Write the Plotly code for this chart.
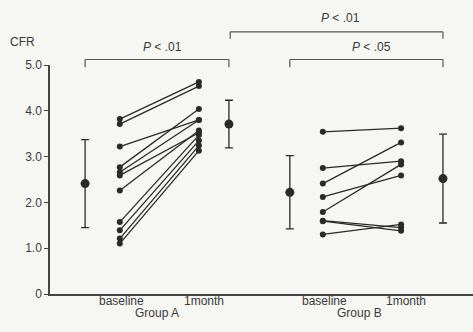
import plotly.graph_objects as go

# ---- data ----
group_a_baseline = [3.82, 3.71, 3.22, 2.77, 2.66, 2.59, 2.26, 1.57, 1.39, 1.21, 1.10]
group_a_1month = [4.63, 4.54, 3.80, 4.04, 3.80, 3.52, 3.57, 3.47, 3.35, 3.24, 3.13]
group_b_baseline = [3.54, 2.75, 2.41, 2.12, 1.79, 1.59, 1.30, 1.60]
group_b_1month = [3.62, 2.90, 3.31, 2.59, 2.83, 1.38, 1.52, 1.45]
mean_values = [2.41, 3.71, 2.22, 2.52]
sd_values = [0.96, 0.52, 0.80, 0.97]
time_labels = ["baseline", "1month"]
group_labels = ["Group A", "Group B"]
p_labels = ["P < .01", "P < .01", "P < .05"]
y_tick_vals = [0, 1, 2, 3, 4, 5]
y_tick_text = ["0", "1.0", "2.0", "3.0", "4.0", "5.0"]

# ---- layout constants (x slots on an abstract 0..10 axis) ----
X_A_MEAN_B, X_A_BASE, X_A_1M, X_A_MEAN_1M = 0.83, 1.65, 3.52, 4.23
X_B_MEAN_B, X_B_BASE, X_B_1M, X_B_MEAN_1M = 5.67, 6.45, 8.30, 9.29
INK = "#2a2a2a"
TXT = "#3a3a3a"
BG = "#f6f6f3"
FONT = "Liberation Sans, Arial, sans-serif"

fig = go.Figure()

for b, m in zip(group_a_baseline, group_a_1month):
    fig.add_trace(go.Scatter(x=[X_A_BASE, X_A_1M], y=[b, m], mode="lines+markers",
                             line=dict(color=INK, width=1.3),
                             marker=dict(color=INK, size=6), showlegend=False, hoverinfo="y"))
for b, m in zip(group_b_baseline, group_b_1month):
    fig.add_trace(go.Scatter(x=[X_B_BASE, X_B_1M], y=[b, m], mode="lines+markers",
                             line=dict(color=INK, width=1.3),
                             marker=dict(color=INK, size=6), showlegend=False, hoverinfo="y"))

fig.add_trace(go.Scatter(
    x=[X_A_MEAN_B, X_A_MEAN_1M, X_B_MEAN_B, X_B_MEAN_1M], y=mean_values, mode="markers",
    marker=dict(color=INK, size=9),
    error_y=dict(type="data", array=sd_values, color=INK, thickness=1.3, width=4),
    showlegend=False, hoverinfo="y"))

# brackets (y in paper units above the plot area)
def bracket(x0, x1, ytop, ybot):
    for xx in (x0, x1):
        fig.add_shape(type="line", xref="x", yref="paper", x0=xx, x1=xx, y0=ybot, y1=ytop,
                      line=dict(color="#555", width=1.2))
    fig.add_shape(type="line", xref="x", yref="paper", x0=x0, x1=x1, y0=ytop, y1=ytop,
                  line=dict(color="#555", width=1.2))

bracket(X_A_MEAN_B, X_A_MEAN_1M, 1.024, 0.99)
bracket(X_B_MEAN_B, X_B_MEAN_1M, 1.024, 0.99)
bracket(X_A_MEAN_1M + 0.03, X_B_MEAN_1M, 1.145, 1.115)

def ptext(label, x, y):
    p, rest = label.split(" ", 1)
    fig.add_annotation(text=f"<i>{p}</i> {rest}", x=x, y=y, xref="x", yref="paper",
                       xanchor="center", yanchor="middle",
                       showarrow=False, font=dict(size=12, color=TXT, family=FONT), xshift=5)

ptext(p_labels[0], (X_A_MEAN_B + X_A_MEAN_1M) / 2, 1.080)
ptext(p_labels[1], (X_A_MEAN_1M + X_B_MEAN_1M) / 2, 1.205)
ptext(p_labels[2], (X_B_MEAN_B + X_B_MEAN_1M) / 2, 1.080)

# x category labels
for xb, x1, g in [(X_A_BASE, X_A_1M, group_labels[0]), (X_B_BASE, X_B_1M, group_labels[1])]:
    fig.add_annotation(text=time_labels[0], x=xb, y=-0.03, xref="x", yref="paper",
                       xanchor="center", yanchor="middle",
                       showarrow=False, font=dict(size=12, color=TXT, family=FONT), xshift=2)
    fig.add_annotation(text=time_labels[1], x=x1, y=-0.03, xref="x", yref="paper",
                       xanchor="center", yanchor="middle",
                       showarrow=False, font=dict(size=12, color=TXT, family=FONT), xshift=5)
    fig.add_annotation(text=g, x=(xb + x1) / 2, y=-0.083, xref="x", yref="paper",
                       xanchor="center", yanchor="middle",
                       showarrow=False, font=dict(size=12, color=TXT, family=FONT), xshift=-2)

fig.add_annotation(text="CFR", x=-0.064, y=(294 - 42) / 229, xref="paper", yref="paper",
                   xanchor="center", yanchor="middle", showarrow=False,
                   font=dict(size=12, color=TXT, family=FONT))

fig.update_layout(
    width=473, height=332,
    margin=dict(l=50, r=0, t=65, b=38),
    paper_bgcolor=BG, plot_bgcolor=BG,
    font=dict(family=FONT, size=12, color=TXT),
    xaxis=dict(range=[0, 10], showgrid=False, zeroline=False, showticklabels=False,
               showline=True, linecolor="#444", linewidth=1.5, ticks=""),
    yaxis=dict(range=[0, 5], showgrid=False, zeroline=False, tickvals=y_tick_vals,
               ticktext=y_tick_text, ticks="outside", ticklen=4, tickcolor="#444",
               showline=True, linecolor="#444", linewidth=1.5,
               tickfont=dict(size=12, color=TXT, family=FONT)),
    showlegend=False,
)

fig.write_html("out.html", config={"displayModeBar": False},
               post_script="document.body.style.margin='0';document.body.style.background='%s';" % BG)
